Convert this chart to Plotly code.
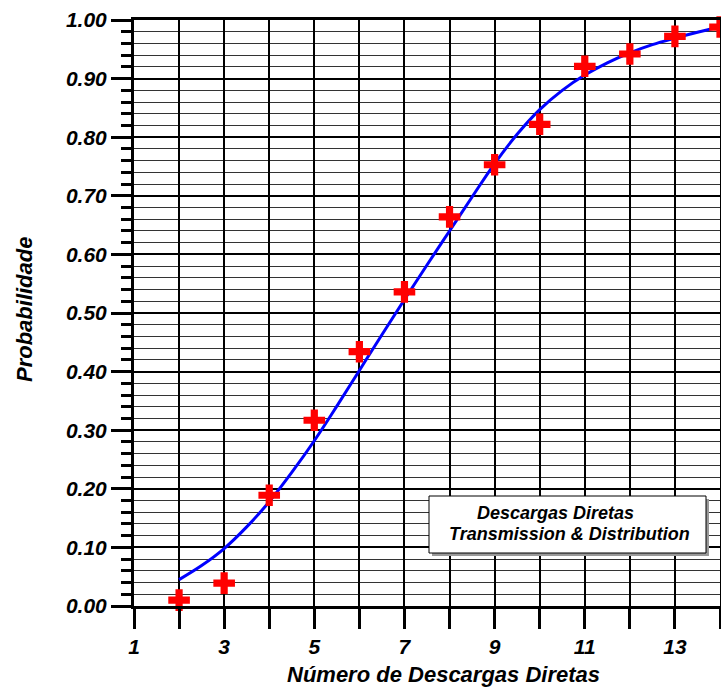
import plotly.graph_objects as go

# Observed data (red crosses)
obs_x = [2, 3, 4, 5, 6, 7, 8, 9, 10, 11, 12, 13, 14]
obs_y = [0.010, 0.039, 0.189, 0.317, 0.434, 0.536, 0.664, 0.753, 0.822, 0.921, 0.942, 0.972, 0.988]

# Fitted curve (blue line)
fit_x = [2, 2.5, 3, 3.5, 4, 4.5, 5, 5.5, 6, 6.5, 7, 7.5, 8, 8.5, 9, 9.5, 10, 10.5, 11, 11.5, 12, 12.5, 13, 13.5, 14]
fit_y = [0.045, 0.069, 0.098, 0.135, 0.178, 0.228, 0.282, 0.341, 0.402, 0.463, 0.523, 0.582, 0.640, 0.698, 0.755, 0.805, 0.847, 0.880, 0.906, 0.927, 0.944, 0.958, 0.969, 0.979, 0.988]

x_tickvals = list(range(1, 15))
x_ticktext = ["1", "", "3", "", "5", "", "7", "", "9", "", "11", "", "13", ""]
y_tickvals = [0.0, 0.1, 0.2, 0.3, 0.4, 0.5, 0.6, 0.7, 0.8, 0.9, 1.0]
y_ticktext = ["0.00", "0.10", "0.20", "0.30", "0.40", "0.50", "0.60", "0.70", "0.80", "0.90", "1.00"]

legend_lines = ["Descargas Diretas", "Transmission & Distribution"]
x_title = "Número de Descargas Diretas"
y_title = "Probabilidade"

FONT = "Liberation Sans, Arial, sans-serif"
BI = dict(family=FONT, weight="bold", style="italic", color="black")

fig = go.Figure()
fig.add_trace(go.Scatter(x=fit_x, y=fit_y, mode="lines", line=dict(color="#0000ff", width=3, shape="spline"),
                         showlegend=False, hoverinfo="skip"))
fig.add_trace(go.Scatter(x=obs_x, y=obs_y, mode="markers",
                         marker=dict(symbol="cross", size=18, color="#ff0000", line=dict(width=0)),
                         showlegend=False, cliponaxis=False))

fig.update_layout(
    width=721, height=689,
    margin=dict(l=134, r=1, t=20, b=83, autoexpand=False),
    paper_bgcolor="white", plot_bgcolor="white",
    font=dict(family=FONT, color="black"),
    xaxis=dict(range=[1, 14], tickmode="array", tickvals=x_tickvals, ticktext=x_ticktext,
               ticks="outside", ticklen=20, tickwidth=3, tickcolor="black",
               showgrid=True, gridcolor="black", gridwidth=2,
               showline=True, linecolor="black", linewidth=3, mirror=True,
               zeroline=False, automargin=False,
               tickfont=dict(size=21, **BI)),
    yaxis=dict(range=[0, 1], tickmode="array", tickvals=y_tickvals, ticktext=y_ticktext,
               ticks="outside", ticklen=20, tickwidth=3, tickcolor="black",
               showgrid=True, gridcolor="black", gridwidth=2,
               minor=dict(dtick=0.02, tick0=0, ticks="outside", ticklen=10, tickwidth=3, tickcolor="black",
                          showgrid=True, gridcolor="#333333", gridwidth=1),
               showline=True, linecolor="black", linewidth=3, mirror=True,
               zeroline=False, automargin=False,
               tickfont=dict(size=21, **BI)),
)

# axis titles
fig.add_annotation(xref="paper", yref="paper", x=(443 - 134) / 586, y=(606 - 674) / 586,
                   xanchor="center", yanchor="middle", showarrow=False, text=x_title,
                   font=dict(size=22, **BI))
fig.add_annotation(xref="paper", yref="paper", x=(24 - 134) / 586, y=(606 - 310) / 586,
                   xanchor="center", yanchor="middle", showarrow=False, text=y_title, textangle=-90,
                   font=dict(size=22, **BI))

# legend-like box with shadow
fig.add_shape(type="rect", xref="paper", yref="paper",
              x0=(432 - 134) / 586, x1=(709 - 134) / 586, y0=(606 - 556) / 586, y1=(606 - 499) / 586,
              fillcolor="#999999", line=dict(width=0), layer="above")
fig.add_shape(type="rect", xref="paper", yref="paper",
              x0=(429 - 134) / 586, x1=(706 - 134) / 586, y0=(606 - 553) / 586, y1=(606 - 496) / 586,
              fillcolor="white", line=dict(color="black", width=1), layer="above")
fig.add_annotation(xref="paper", yref="paper", x=(555 - 134) / 586, y=(606 - 513) / 586,
                   xanchor="center", yanchor="middle", showarrow=False, text=legend_lines[0],
                   font=dict(size=18, **BI))
fig.add_annotation(xref="paper", yref="paper", x=(569 - 134) / 586, y=(606 - 534) / 586,
                   xanchor="center", yanchor="middle", showarrow=False, text=legend_lines[1],
                   font=dict(size=18, **BI))

fig.write_html("out.html", config={"displayModeBar": False},
               post_script="document.body.style.margin='0';document.body.style.overflow='hidden';")
